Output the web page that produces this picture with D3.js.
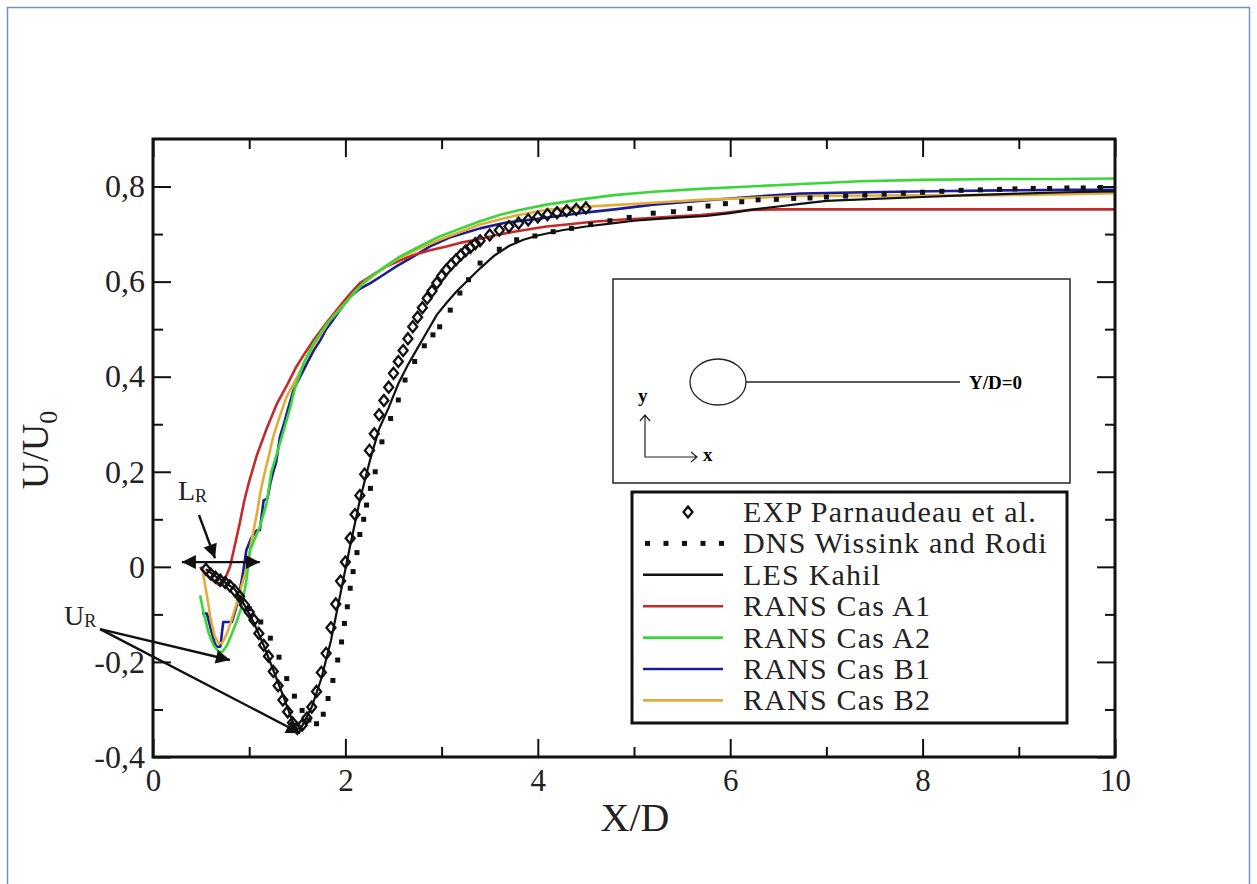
<!DOCTYPE html>
<html>
<head>
<meta charset="utf-8">
<script src="https://cdn.jsdelivr.net/npm/d3@7"></script>
<style>
  body { margin: 0; background: #fff; }
</style>
</head>
<body>
<div id="chart"></div>
<script>
// chart size
var svgWidth = 1257;
var svgHeight = 884;
var serif = "'Liberation Serif', 'Times New Roman', Tinos, 'DejaVu Serif', 'Noto Serif', serif";

// plot frame
var frame = { left: 153, right: 1115, top: 139, bottom: 757 };

// ---- data ----
var xMajor = [0, 2, 4, 6, 8, 10];
var xMinor = [1, 3, 5, 7, 9];
var yMajor = [-0.4, -0.2, 0, 0.2, 0.4, 0.6, 0.8];
var yMinor = [-0.3, -0.1, 0.1, 0.3, 0.5, 0.7];

var seriesNames = ["EXP Parnaudeau et al.", "DNS Wissink and Rodi", "LES Kahil",
  "RANS Cas A1", "RANS Cas A2", "RANS Cas B1", "RANS Cas B2"];

var expX = [0.55,0.60,0.65,0.70,0.75,0.80,0.85,0.90,0.95,1.00,1.05,1.10,1.15,1.20,1.25,1.30,1.35,1.40,1.45,1.50,
  1.55,1.60,1.65,1.70,1.75,1.80,1.85,1.90,1.95,2.00,2.05,2.10,2.15,2.20,2.25,2.30,2.35,2.40,2.45,2.50,
  2.55,2.60,2.65,2.70,2.75,2.80,2.85,2.90,2.95,3.00,3.05,3.10,3.15,3.20,3.25,3.30,3.35,3.40,3.50,3.60,
  3.70,3.80,3.90,4.00,4.10,4.20,4.30,4.40,4.50];
var expU = [-0.005,-0.015,-0.022,-0.028,-0.033,-0.040,-0.050,-0.062,-0.080,-0.095,-0.112,-0.140,-0.165,-0.188,-0.220,-0.250,-0.280,-0.305,-0.328,-0.340,
  -0.333,-0.318,-0.295,-0.262,-0.222,-0.182,-0.128,-0.078,-0.030,0.010,0.060,0.110,0.150,0.195,0.245,0.280,0.320,0.350,0.378,0.407,
  0.432,0.455,0.480,0.505,0.525,0.545,0.565,0.580,0.597,0.612,0.625,0.636,0.646,0.656,0.665,0.672,0.680,0.686,0.698,0.708,
  0.716,0.723,0.730,0.736,0.741,0.745,0.749,0.752,0.755];

var dnsX = [0.90,1.00,1.12,1.22,1.31,1.39,1.47,1.55,1.62,1.70,1.77,1.82,1.87,1.92,1.96,1.99,2.02,2.05,2.08,2.12,
  2.15,2.19,2.22,2.26,2.31,2.38,2.47,2.55,2.62,2.72,2.82,2.91,2.98,3.09,3.19,3.28,3.40,3.60,3.78,3.97,
  4.16,4.35,4.55,4.75,4.95,5.20,5.41,5.58,5.77,5.95,6.12,6.29,6.48,6.66,6.83,7.00,7.20,7.40,7.60,7.80,
  8.00,8.20,8.40,8.60,8.80,8.96,9.15,9.32,9.50,9.67,9.85];
var dnsU = [-0.065,-0.088,-0.116,-0.150,-0.190,-0.235,-0.272,-0.302,-0.322,-0.330,-0.310,-0.277,-0.239,-0.196,-0.158,-0.119,-0.084,-0.045,-0.010,0.030,
  0.068,0.100,0.130,0.165,0.200,0.263,0.312,0.351,0.393,0.432,0.465,0.488,0.505,0.540,0.576,0.604,0.639,0.668,0.688,0.696,
  0.705,0.712,0.720,0.728,0.735,0.744,0.747,0.754,0.759,0.764,0.768,0.772,0.773,0.775,0.776,0.778,0.780,0.782,0.784,0.786,
  0.788,0.790,0.792,0.793,0.794,0.795,0.796,0.796,0.797,0.797,0.798];

var lesX = [0.55,0.65,0.75,0.85,0.95,1.05,1.15,1.25,1.35,1.45,1.50,1.55,1.65,1.75,1.85,1.95,2.05,2.15,2.25,2.35,
  2.45,2.55,2.65,2.75,2.85,2.95,3.05,3.15,3.25,3.40,3.55,3.70,3.85,4.00,4.25,4.50,4.75,5.00,5.25,5.50,
  5.75,6.00,6.25,6.50,6.75,7.00,7.50,8.00,8.50,9.00,9.50,10.0];
var lesU = [-0.005,-0.020,-0.033,-0.047,-0.080,-0.118,-0.165,-0.217,-0.270,-0.325,-0.342,-0.335,-0.295,-0.235,-0.155,-0.055,0.045,0.140,0.220,0.290,
  0.335,0.385,0.425,0.460,0.495,0.530,0.555,0.578,0.598,0.628,0.655,0.675,0.688,0.697,0.708,0.716,0.722,0.728,0.732,0.735,
  0.738,0.744,0.752,0.758,0.764,0.770,0.774,0.778,0.782,0.785,0.788,0.790];

var a1X = [0.49,0.55,0.60,0.65,0.70,0.75,0.80,0.85,0.90,0.95,1.00,1.08,1.18,1.29,1.40,1.49,1.58,1.67,1.79,1.91,
  2.03,2.15,2.29,2.43,2.57,2.71,2.88,3.05,3.20,3.36,3.55,3.75,4.09,4.30,4.57,4.85,5.13,5.41,5.69,5.95,
  6.21,6.50,6.86,7.50,8.00,9.00,10.0];
var a1U = [0.000,-0.015,-0.025,-0.033,-0.040,-0.025,0.000,0.045,0.090,0.140,0.180,0.235,0.290,0.344,0.385,0.421,0.450,0.477,0.510,0.540,
  0.570,0.597,0.615,0.632,0.645,0.656,0.666,0.674,0.682,0.688,0.697,0.705,0.716,0.720,0.726,0.730,0.733,0.737,0.740,0.745,
  0.751,0.752,0.752,0.752,0.752,0.752,0.752];

var a2X = [0.49,0.53,0.58,0.63,0.68,0.72,0.77,0.82,0.87,0.92,0.97,1.01,1.06,1.11,1.18,1.23,1.29,1.35,1.42,1.48,
  1.57,1.67,1.80,1.94,2.08,2.22,2.40,2.57,2.78,2.98,3.20,3.40,3.60,3.80,4.09,4.45,4.79,5.20,5.69,6.20,
  6.80,7.35,8.00,8.80,9.40,10.0];
var a2U = [-0.060,-0.100,-0.140,-0.165,-0.178,-0.179,-0.165,-0.140,-0.115,-0.085,-0.030,0.035,0.060,0.084,0.133,0.200,0.240,0.281,0.330,0.379,
  0.430,0.470,0.510,0.540,0.575,0.604,0.630,0.653,0.675,0.695,0.712,0.727,0.740,0.750,0.762,0.773,0.782,0.789,0.795,0.800,
  0.806,0.811,0.814,0.816,0.816,0.817];

var b1X = [0.51,0.56,0.60,0.64,0.66,0.70,0.73,0.78,0.82,0.86,0.89,0.93,0.97,1.02,1.08,1.11,1.15,1.19,1.22,1.25,
  1.28,1.32,1.36,1.40,1.46,1.53,1.60,1.67,1.74,1.80,1.87,1.96,2.05,2.15,2.26,2.40,2.53,2.70,2.88,3.10,
  3.40,3.66,3.92,4.18,4.44,4.80,5.20,5.70,6.20,6.73,7.40,8.11,8.80,9.50,10.0];
var b1U = [-0.098,-0.098,-0.130,-0.160,-0.168,-0.168,-0.116,-0.116,-0.116,-0.090,-0.063,-0.020,0.035,0.060,0.077,0.077,0.140,0.144,0.176,0.200,
  0.220,0.274,0.300,0.330,0.372,0.400,0.428,0.455,0.477,0.500,0.519,0.545,0.568,0.585,0.597,0.615,0.632,0.652,0.674,0.694,
  0.712,0.724,0.730,0.737,0.744,0.752,0.762,0.770,0.778,0.785,0.788,0.790,0.792,0.793,0.793];

var b2X = [0.52,0.56,0.60,0.64,0.68,0.72,0.77,0.82,0.87,0.92,0.97,1.02,1.08,1.11,1.15,1.20,1.25,1.32,1.39,1.50,
  1.60,1.72,1.84,2.00,2.15,2.34,2.53,2.75,2.98,3.20,3.40,3.75,4.09,4.45,4.78,5.20,5.69,6.20,6.73,7.50,
  8.80,9.50,10.0];
var b2U = [-0.014,-0.060,-0.110,-0.145,-0.161,-0.160,-0.140,-0.110,-0.077,-0.040,-0.007,0.050,0.112,0.150,0.189,0.230,0.274,0.318,0.358,0.400,
  0.442,0.482,0.519,0.556,0.589,0.620,0.646,0.668,0.688,0.705,0.720,0.738,0.751,0.757,0.761,0.766,0.772,0.776,0.780,0.781,
  0.782,0.784,0.786];

var ransColors = ["#c42a2a", "#3ad63a", "#1c1c96", "#e0ac3a"];

// ---- svg ----
var svg = d3.select("#chart")
  .append("svg")
  .attr("width", svgWidth)
  .attr("height", svgHeight)
  .style("display", "block")
  .style("font-family", serif);

svg.append("rect")
  .attr("width", svgWidth).attr("height", svgHeight)
  .attr("fill", "#fff");

// page border (light blue frame around the figure)
svg.append("rect")
  .attr("x", 7.5).attr("y", 7.5)
  .attr("width", 1242).attr("height", 920)
  .attr("fill", "none")
  .attr("stroke", "#6f93c4")
  .attr("stroke-width", 1.5);

var x = d3.scaleLinear().domain([0, 10]).range([frame.left, frame.right]);
var y = d3.scaleLinear().domain([-0.4, 0.9]).range([frame.bottom, frame.top]);

var comma = d3.formatLocale({ decimal: ",", thousands: ".", grouping: [3], currency: ["", ""], minus: "-" });
var fmtY = function(d) { return Math.abs(d) < 1e-9 ? "0" : comma.format(".1f")(d); };

// ---- axes (ticks pointing inwards on all four sides) ----
function styleAxis(g) {
  g.attr("font-family", null).style("font-family", serif);
  g.select(".domain").remove();
  g.selectAll(".tick line").attr("stroke", "#111").attr("stroke-width", 2);
}

svg.append("g")
  .attr("transform", "translate(0," + frame.bottom + ")")
  .call(d3.axisBottom(x).tickValues(xMajor).tickSize(-18).tickPadding(12).tickFormat(d3.format("d")))
  .call(styleAxis)
  .call(function(g) {
    g.selectAll("text").attr("font-size", 31).attr("fill", "#222").style("font-family", serif);
  });
svg.append("g")
  .attr("transform", "translate(0," + frame.bottom + ")")
  .call(d3.axisBottom(x).tickValues(xMinor).tickSize(-10).tickFormat(""))
  .call(styleAxis);
svg.append("g")
  .attr("transform", "translate(0," + frame.top + ")")
  .call(d3.axisTop(x).tickValues(xMajor).tickSize(-18).tickFormat(""))
  .call(styleAxis);
svg.append("g")
  .attr("transform", "translate(0," + frame.top + ")")
  .call(d3.axisTop(x).tickValues(xMinor).tickSize(-10).tickFormat(""))
  .call(styleAxis);

svg.append("g")
  .attr("transform", "translate(" + frame.left + ",0)")
  .call(d3.axisLeft(y).tickValues(yMajor).tickSize(-18).tickPadding(8).tickFormat(fmtY))
  .call(styleAxis)
  .call(function(g) {
    g.selectAll("text").attr("font-size", 32).attr("fill", "#222").style("font-family", serif)
      .attr("x", -8);
  });
svg.append("g")
  .attr("transform", "translate(" + frame.left + ",0)")
  .call(d3.axisLeft(y).tickValues(yMinor).tickSize(-10).tickFormat(""))
  .call(styleAxis);
svg.append("g")
  .attr("transform", "translate(" + frame.right + ",0)")
  .call(d3.axisRight(y).tickValues(yMajor).tickSize(-18).tickFormat(""))
  .call(styleAxis);
svg.append("g")
  .attr("transform", "translate(" + frame.right + ",0)")
  .call(d3.axisRight(y).tickValues(yMinor).tickSize(-10).tickFormat(""))
  .call(styleAxis);

// axis titles
svg.append("text")
  .attr("x", 635)
  .attr("y", 831)
  .attr("text-anchor", "middle")
  .attr("font-size", 40)
  .attr("fill", "#222")
  .style("font-family", serif)
  .text("X/D");

var yTitle = svg.append("text")
  .attr("transform", "translate(48,450) rotate(-90)")
  .attr("text-anchor", "middle")
  .attr("font-size", 38)
  .attr("fill", "#222")
  .style("font-family", serif);
yTitle.append("tspan").text("U/U");
yTitle.append("tspan").attr("font-size", 26).attr("dy", 9).text("0");

// ---- data marks ----
svg.append("clipPath").attr("id", "plotClip")
  .append("rect")
  .attr("x", frame.left).attr("y", frame.top)
  .attr("width", frame.right - frame.left).attr("height", frame.bottom - frame.top);

var plot = svg.append("g").attr("clip-path", "url(#plotClip)");

var line = d3.line()
  .x(function(d) { return x(d[0]); })
  .y(function(d) { return y(d[1]); });

function pairs(xs, us) { return xs.map(function(v, i) { return [v, us[i]]; }); }

var rans = [
  { xs: b1X, us: b1U, color: ransColors[2] },
  { xs: a1X, us: a1U, color: ransColors[0] },
  { xs: b2X, us: b2U, color: ransColors[3] },
  { xs: a2X, us: a2U, color: ransColors[1] }
];

rans.forEach(function(s) {
  plot.append("path")
    .datum(pairs(s.xs, s.us))
    .attr("d", line)
    .attr("fill", "none")
    .attr("stroke", s.color)
    .attr("stroke-width", 2.6)
    .attr("stroke-linejoin", "round");
});

plot.append("path")
  .datum(pairs(lesX, lesU))
  .attr("d", line)
  .attr("fill", "none")
  .attr("stroke", "#111")
  .attr("stroke-width", 2.2);

plot.selectAll(".dns")
  .data(pairs(dnsX, dnsU))
  .enter()
  .append("rect")
  .attr("class", "dns")
  .attr("x", function(d) { return x(d[0]) - 2.5; })
  .attr("y", function(d) { return y(d[1]) - 2.5; })
  .attr("width", 5).attr("height", 5)
  .attr("fill", "#111");

var diamond = "M0,-5.5L4.5,0L0,5.5L-4.5,0Z";
plot.selectAll(".exp")
  .data(pairs(expX, expU))
  .enter()
  .append("path")
  .attr("class", "exp")
  .attr("d", diamond)
  .attr("transform", function(d) { return "translate(" + x(d[0]) + "," + y(d[1]) + ")"; })
  .attr("fill", "none")
  .attr("stroke", "#111")
  .attr("stroke-width", 2.3);

// plot frame
svg.append("rect")
  .attr("x", frame.left).attr("y", frame.top)
  .attr("width", frame.right - frame.left).attr("height", frame.bottom - frame.top)
  .attr("fill", "none")
  .attr("stroke", "#111")
  .attr("stroke-width", 3);

// ---- inset sketch of the cylinder and the Y/D=0 line ----
var inset = svg.append("g");
inset.append("rect")
  .attr("x", 613).attr("y", 279).attr("width", 457).attr("height", 204)
  .attr("fill", "#fff").attr("stroke", "#333").attr("stroke-width", 1.6);
inset.append("ellipse")
  .attr("cx", 718).attr("cy", 382).attr("rx", 28).attr("ry", 23)
  .attr("fill", "none").attr("stroke", "#222").attr("stroke-width", 1.3);
inset.append("line")
  .attr("x1", 746).attr("y1", 382).attr("x2", 960).attr("y2", 382)
  .attr("stroke", "#222").attr("stroke-width", 1.3);
inset.append("text")
  .attr("x", 969).attr("y", 389)
  .attr("font-size", 19).attr("font-weight", "bold")
  .style("font-family", serif)
  .text("Y/D=0");
inset.append("path")
  .attr("d", "M645,415 L645,457 L696,457 M640,421 L645,415 L650,421 M691,452 L697,457 L691,462")
  .attr("fill", "none").attr("stroke", "#222").attr("stroke-width", 1.2);
inset.append("text").attr("x", 638).attr("y", 402).attr("font-size", 19).attr("font-weight", "bold")
  .style("font-family", serif).text("y");
inset.append("text").attr("x", 703).attr("y", 461).attr("font-size", 19).attr("font-weight", "bold")
  .style("font-family", serif).text("x");

// ---- legend ----
var legend = svg.append("g");
legend.append("rect")
  .attr("x", 632).attr("y", 492).attr("width", 435).attr("height", 231)
  .attr("fill", "#fff").attr("stroke", "#111").attr("stroke-width", 3);

var rowY = function(i) { return 512 + i * 31.4; };
var legendColors = ["#111", "#111", "#111", ransColors[0], ransColors[1], ransColors[2], ransColors[3]];

seriesNames.forEach(function(name, i) {
  if (i === 0) {
    legend.append("path").attr("d", diamond)
      .attr("transform", "translate(688," + rowY(i) + ")")
      .attr("fill", "none").attr("stroke", "#111").attr("stroke-width", 2.3);
  } else if (i === 1) {
    legend.selectAll(".ldot").data([0, 1, 2, 3, 4]).enter().append("rect")
      .attr("x", function(k) { return 645 + k * 18.5; })
      .attr("y", rowY(i) - 2.5).attr("width", 5).attr("height", 5).attr("fill", "#111");
  } else {
    legend.append("line")
      .attr("x1", 643).attr("x2", 723).attr("y1", rowY(i)).attr("y2", rowY(i))
      .attr("stroke", legendColors[i]).attr("stroke-width", 2.6);
  }
  legend.append("text")
    .attr("x", 743).attr("y", rowY(i) + 10)
    .attr("font-size", 30)
    .attr("letter-spacing", 1.2)
    .attr("fill", "#222")
    .style("font-family", serif)
    .text(name);
});

// ---- annotations L_R and U_R ----
var defs = svg.append("defs");
defs.append("marker")
  .attr("id", "head")
  .attr("viewBox", "0 0 10 10")
  .attr("refX", 10).attr("refY", 5)
  .attr("markerWidth", 17).attr("markerHeight", 14)
  .attr("markerUnits", "userSpaceOnUse")
  .attr("orient", "auto-start-reverse")
  .append("path").attr("d", "M0,0L10,5L0,10Z").attr("fill", "#111");

var ann = svg.append("g").attr("stroke", "#111").attr("stroke-width", 2.4);

ann.append("line")
  .attr("x1", x(0.30)).attr("y1", y(0.01)).attr("x2", x(1.11)).attr("y2", y(0.01))
  .attr("marker-start", "url(#head)").attr("marker-end", "url(#head)");
ann.append("line")
  .attr("x1", x(0.478)).attr("y1", y(0.109)).attr("x2", x(0.645)).attr("y2", y(0.018))
  .attr("marker-end", "url(#head)");
ann.append("line")
  .attr("x1", x(-0.55)).attr("y1", y(-0.131)).attr("x2", x(0.80)).attr("y2", y(-0.196))
  .attr("marker-end", "url(#head)");
ann.append("line")
  .attr("x1", x(-0.55)).attr("y1", y(-0.131)).attr("x2", x(1.53)).attr("y2", y(-0.35))
  .attr("marker-end", "url(#head)");

var lr = svg.append("text").attr("x", x(0.26)).attr("y", 500).attr("font-size", 28)
  .attr("fill", "#222").style("font-family", serif);
lr.append("tspan").text("L");
lr.append("tspan").attr("font-size", 18).attr("dy", 2).text("R");

var ur = svg.append("text").attr("x", 64).attr("y", 625).attr("font-size", 28)
  .attr("fill", "#222").style("font-family", serif);
ur.append("tspan").text("U");
ur.append("tspan").attr("font-size", 18).attr("dy", 2).text("R");
</script>
</body>
</html>
